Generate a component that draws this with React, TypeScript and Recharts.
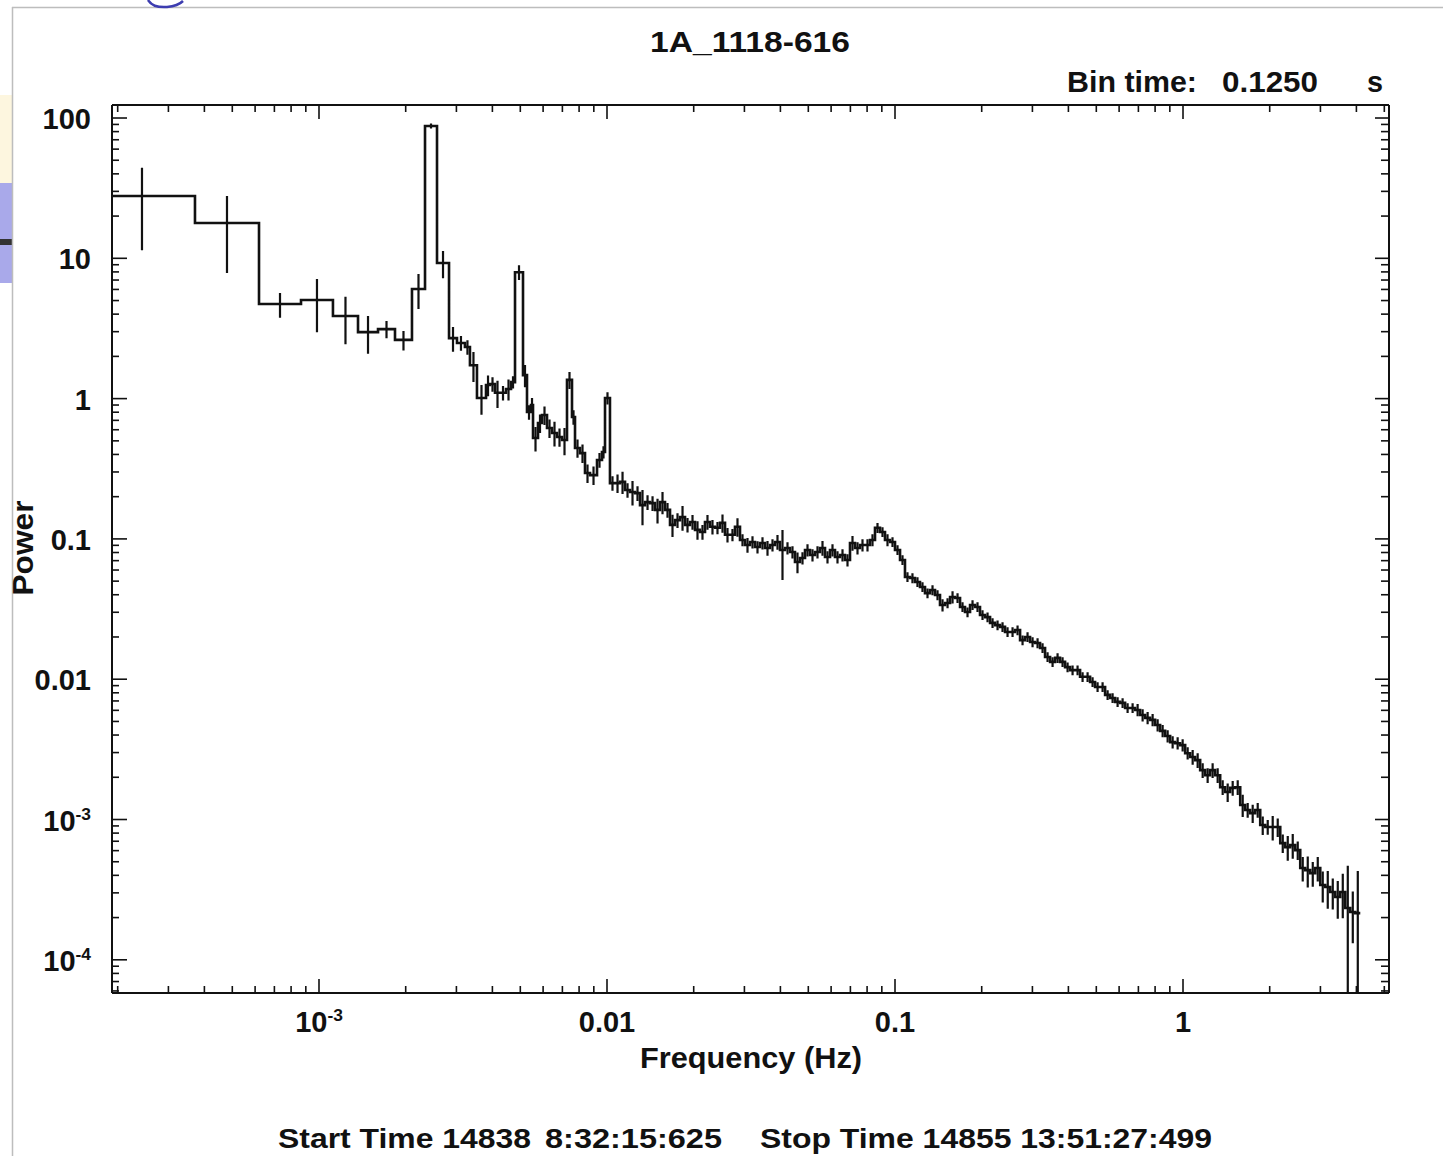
import React from 'react';
import { LineChart, Line, XAxis, YAxis } from 'recharts';

// ---- data ----
// bin edges (Hz), n+1 values
const binEdges = [
  1.59e-4, 3.71e-4, 6.19e-4, 8.66e-4, 1.118e-3, 1.366e-3, 1.603e-3, 1.836e-3, 2.103e-3, 2.334e-3,
  2.569e-3, 2.828e-3, 3.014e-3, 3.212e-3, 3.343e-3, 3.536e-3, 3.801e-3, 3.925e-3, 4.084e-3, 4.251e-3,
  4.46e-3, 4.642e-3, 4.793e-3, 5.109e-3, 5.275e-3, 5.447e-3, 5.535e-3, 5.76e-3, 5.947e-3, 6.19e-3,
  6.442e-3, 6.705e-3, 6.979e-3, 7.263e-3, 7.559e-3, 7.743e-3, 8.059e-3, 8.387e-3, 8.73e-3, 9.233e-3,
  9.607e-3, 9.842e-3,
  0.01024, 0.01066, 0.0111, 0.01155, 0.01202, 0.01251, 0.01302, 0.01355, 0.01411, 0.01468,
  0.01528, 0.0159, 0.01655, 0.01722, 0.01793, 0.01866, 0.01942, 0.02021, 0.02103, 0.02189,
  0.02278, 0.02371, 0.02468, 0.02569, 0.02673, 0.02782, 0.02896, 0.03014, 0.03137, 0.03265,
  0.03398, 0.03537, 0.03681, 0.03831, 0.03987, 0.0415, 0.04319, 0.04495, 0.04678, 0.0487,
  0.05068, 0.05275, 0.0549, 0.05714, 0.05947, 0.06189, 0.06442, 0.06705, 0.06978, 0.07263,
  0.07559, 0.07867, 0.08188, 0.08522, 0.0887, 0.09231, 0.09608, 0.1, 0.1041, 0.1083,
  0.1127, 0.1173, 0.1221, 0.1271, 0.1323, 0.1377, 0.1433, 0.1492, 0.1553, 0.1616,
  0.1682, 0.175, 0.1822, 0.1896, 0.1973, 0.2054, 0.2138, 0.2225, 0.2316, 0.241,
  0.2509, 0.2611, 0.2718, 0.2828, 0.2944, 0.3064, 0.3189, 0.3319, 0.3455, 0.3596,
  0.3742, 0.3895, 0.4054, 0.4219, 0.4391, 0.4571, 0.4757, 0.4951, 0.5153, 0.5364,
  0.5583, 0.581, 0.6048, 0.6294, 0.6551, 0.6819, 0.7097, 0.7387, 0.7688, 0.8002,
  0.8329, 0.8669, 0.9022, 0.9391, 0.9774, 1.0173, 1.059, 1.102, 1.147, 1.194,
  1.242, 1.293, 1.346, 1.401, 1.458, 1.518, 1.58, 1.644, 1.711, 1.781,
  1.854, 1.93, 2.008, 2.09, 2.176, 2.265, 2.357, 2.453, 2.553, 2.657,
  2.766, 2.879, 2.996, 3.118, 3.246, 3.378, 3.516, 3.66, 3.809, 3.965,
  4.126,
];

// power per bin
const power = [
  27.8, 17.85, 4.72, 5.04, 3.88, 2.98, 3.13, 2.62, 6.04, 87.7,
  9.26, 2.7, 2.49, 2.33, 1.73, 1.01, 1.25, 1.27, 1.1, 1.1,
  1.17, 1.31, 7.96, 1.47, 0.802, 0.9, 0.524, 0.67, 0.764, 0.617,
  0.569, 0.533, 0.507, 1.36, 0.739, 0.445, 0.409, 0.295, 0.285, 0.365,
  0.416, 1.01,
  0.25, 0.25, 0.255, 0.223, 0.216, 0.212, 0.174, 0.183, 0.18, 0.161,
  0.183, 0.161, 0.126, 0.136, 0.143, 0.126, 0.132, 0.116, 0.112, 0.132,
  0.122, 0.12, 0.13, 0.107, 0.107, 0.122, 0.0983, 0.0905, 0.0951, 0.0876,
  0.0935, 0.0862, 0.0905, 0.0951, 0.0834, 0.0862, 0.0807, 0.0685, 0.0731, 0.0834,
  0.0768, 0.0807, 0.0862, 0.0743, 0.0834, 0.0743, 0.0768, 0.0707, 0.0935, 0.0862,
  0.0905, 0.0905, 0.0983, 0.12, 0.112, 0.0983, 0.0951, 0.0834, 0.0707, 0.0535,
  0.0526, 0.0493, 0.0454, 0.0411, 0.0432, 0.0398, 0.0338, 0.0349, 0.0385, 0.0379,
  0.0327, 0.0301, 0.0338, 0.0327, 0.0287, 0.0277, 0.0252, 0.0243, 0.0236, 0.0217,
  0.0217, 0.0224, 0.019, 0.02, 0.0184, 0.0181, 0.0167, 0.0144, 0.0133, 0.0142,
  0.0133, 0.0122, 0.0116, 0.0116, 0.0104, 0.0104, 0.00955, 0.00881, 0.00881, 0.00773,
  0.00735, 0.00689, 0.00678, 0.00624, 0.00624, 0.00604, 0.00556, 0.0053, 0.00513, 0.00472,
  0.00428, 0.00394, 0.00356, 0.0035, 0.00339, 0.00297, 0.00279, 0.00265, 0.00225, 0.00207,
  0.00225, 0.00207, 0.0017, 0.00157, 0.00168, 0.0017, 0.00127, 0.00117, 0.00111, 0.00117,
  0.000914, 0.000884, 0.000884, 0.000884, 0.000679, 0.000636, 0.000657, 0.000605, 0.000451, 0.000436,
  0.000415, 0.000451, 0.000341, 0.00033, 0.000304, 0.00028, 0.000304, 0.000234, 0.000219, 0.000215,
];

// relative 1-sigma error per bin
const relErr = [
  0.59, 0.56, 0.2, 0.41, 0.37, 0.3, 0.14, 0.16, 0.28, 0.04,
  0.22, 0.2, 0.12, 0.12, 0.24, 0.24, 0.17, 0.12, 0.22, 0.12,
  0.17, 0.1, 0.12, 0.18, 0.12, 0.12, 0.2, 0.15, 0.15, 0.15,
  0.2, 0.15, 0.22, 0.14, 0.12, 0.15, 0.15, 0.15, 0.15, 0.12,
  0.1, 0.1,
  0.12, 0.15, 0.18, 0.12, 0.2, 0.12, 0.28, 0.12, 0.12, 0.2,
  0.18, 0.12, 0.18, 0.12, 0.2, 0.12, 0.12, 0.15, 0.12, 0.12,
  0.12, 0.1, 0.15, 0.12, 0.1, 0.15, 0.1, 0.12, 0.1, 0.1,
  0.1, 0.12, 0.1, 0.12, 0.39, 0.1, 0.1, 0.17, 0.1, 0.1,
  0.1, 0.1, 0.12, 0.1, 0.1, 0.1, 0.1, 0.1, 0.12, 0.1,
  0.1, 0.1, 0.1, 0.08, 0.08, 0.1, 0.08, 0.08, 0.08, 0.08,
  0.08, 0.08, 0.08, 0.08, 0.08, 0.08, 0.1, 0.08, 0.1, 0.08,
  0.08, 0.08, 0.08, 0.08, 0.08, 0.08, 0.08, 0.08, 0.08, 0.08,
  0.08, 0.08, 0.08, 0.08, 0.08, 0.08, 0.08, 0.08, 0.08, 0.08,
  0.08, 0.08, 0.08, 0.08, 0.08, 0.08, 0.08, 0.08, 0.08, 0.08,
  0.08, 0.08, 0.08, 0.08, 0.08, 0.1, 0.1, 0.1, 0.1, 0.1,
  0.1, 0.1, 0.1, 0.1, 0.1, 0.1, 0.12, 0.12, 0.12, 0.12,
  0.12, 0.12, 0.12, 0.15, 0.12, 0.12, 0.18, 0.12, 0.15, 0.12,
  0.15, 0.12, 0.2, 0.15, 0.15, 0.2, 0.2, 0.15, 0.2, 0.25,
  0.2, 0.2, 0.25, 0.3, 0.25, 0.3, 0.35, 1.0, 0.4, 1.0,
];

const xMajorTicks = [0.001, 0.01, 0.1, 1];
const xTickLabels = ['10^-3', '0.01', '0.1', '1'];
const yMajorTicks = [1e-4, 1e-3, 0.01, 0.1, 1, 10, 100];
const yTickLabels = ['10^-4', '10^-3', '0.01', '0.1', '1', '10', '100'];

const title = '1A_1118-616';
const binTimeLabel = 'Bin time:';
const binTimeValue = '0.1250';
const binTimeUnit = 's';
const xTitle = 'Frequency (Hz)';
const yTitle = 'Power';
const startText = 'Start Time 14838';
const startClock = '8:32:15:625';
const stopText = 'Stop Time 14855 13:51:27:499';

// ---- derived ----
const X_DOMAIN: [number, number] = [1.911e-4, 5.191];
const Y_DOMAIN: [number, number] = [5.8e-5, 123.8];

const withMinors = (majors: number[], dom: [number, number]) => {
  const out: number[] = [];
  const lo = Math.floor(Math.log10(dom[0]));
  const hi = Math.ceil(Math.log10(dom[1]));
  for (let d = lo; d <= hi; d++) {
    for (let m = 1; m <= 9; m++) {
      const v = m * Math.pow(10, d);
      if (v >= dom[0] && v <= dom[1]) out.push(v);
    }
  }
  majors.forEach((v) => { if (!out.some((o) => Math.abs(o / v - 1) < 1e-9)) out.push(v); });
  return out.sort((a, b) => a - b);
};
const xTicks = withMinors(xMajorTicks, X_DOMAIN);
const yTicks = withMinors(yMajorTicks, Y_DOMAIN);

const majorIndex = (v: number, majors: number[]) => majors.findIndex((m) => Math.abs(v / m - 1) < 1e-6);

const stepData = power.flatMap((p, i) => [
  { f: binEdges[i], p },
  { f: binEdges[i + 1], p },
]);
const errData = power.flatMap((p, i) => {
  const c = Math.sqrt(binEdges[i] * binEdges[i + 1]);
  const s = p * relErr[i];
  return [
    { f: c, p: Math.max(p - s, 1e-7) },
    { f: c, p: p + s },
    { f: c, p: null as number | null },
  ];
});

const FONT = '"Liberation Sans", Arial, Helvetica, sans-serif';
const INK = '#111';
const MAJ = 14;
const MIN = 7;

const Label = ({ x, y, text, anchor, size }: { x: number; y: number; text: string; anchor: string; size: number }) => {
  const parts = text.split('^');
  return (
    <text x={x} y={y} textAnchor={anchor} fontFamily={FONT} fontWeight="bold" fontSize={size} fill={INK}>
      <tspan>{parts[0]}</tspan>
      {parts[1] ? (
        <tspan dy={-11} fontSize={size * 0.6}>{parts[1]}</tspan>
      ) : null}
    </text>
  );
};

const XTickBottom = (props: any) => {
  const { x, y, payload } = props;
  const k = majorIndex(payload.value, xMajorTicks);
  const len = k >= 0 ? MAJ : MIN;
  return (
    <g>
      <line x1={x} x2={x} y1={y} y2={y - len} stroke={INK} strokeWidth={1.6} />
      {k >= 0 ? <Label x={x} y={y + 39} text={xTickLabels[k]} anchor="middle" size={29} /> : null}
    </g>
  );
};
const XTickTop = (props: any) => {
  const { x, y, payload } = props;
  const k = majorIndex(payload.value, xMajorTicks);
  const len = k >= 0 ? MAJ : MIN;
  return <line x1={x} x2={x} y1={y} y2={y + len} stroke={INK} strokeWidth={1.6} />;
};
const YTickLeft = (props: any) => {
  const { x, y, payload } = props;
  const k = majorIndex(payload.value, yMajorTicks);
  const len = k >= 0 ? MAJ + 1 : MIN;
  return (
    <g>
      <line x1={x} x2={x + len} y1={y} y2={y} stroke={INK} strokeWidth={1.6} />
      {k >= 0 ? <Label x={x - 21} y={y + 11} text={yTickLabels[k]} anchor="end" size={29} /> : null}
    </g>
  );
};
const YTickRight = (props: any) => {
  const { x, y, payload } = props;
  const k = majorIndex(payload.value, yMajorTicks);
  const len = k >= 0 ? MAJ : MIN + 1;
  return <line x1={x} x2={x - len} y1={y} y2={y} stroke={INK} strokeWidth={1.6} />;
};

const txt = (x: number, y: number, s: string, len: number, anchor = 'start', extra: any = {}, size = 30) => (
  <text x={x} y={y} textAnchor={anchor} fontFamily={FONT} fontWeight="bold" fontSize={size} fill={INK}
    textLength={len} lengthAdjust="spacingAndGlyphs" {...extra}>{s}</text>
);

export default function App() {
  return (
    <div style={{ position: 'absolute', left: 0, top: 0, width: 1443, height: 1156, background: '#fff', overflow: 'hidden' }}>
      <LineChart width={1443} height={1156} margin={{ top: 95, right: 44, bottom: 123, left: 52 }}>
        <XAxis xAxisId="b" dataKey="f" type="number" scale="log" domain={X_DOMAIN} allowDataOverflow
          ticks={xTicks} interval={0} tickSize={0} tickMargin={0} height={40} tickLine={false}
          axisLine={{ stroke: INK, strokeWidth: 2 }} tick={(p: any) => <XTickBottom {...p} />} />
        <XAxis xAxisId="t" orientation="top" dataKey="f" type="number" scale="log" domain={X_DOMAIN} allowDataOverflow
          ticks={xTicks} interval={0} tickSize={0} tickMargin={0} height={10} tickLine={false}
          axisLine={{ stroke: INK, strokeWidth: 2 }} tick={(p: any) => <XTickTop {...p} />} />
        <YAxis yAxisId="l" type="number" scale="log" domain={Y_DOMAIN} allowDataOverflow
          ticks={yTicks} interval={0} tickSize={0} tickMargin={0} width={60} tickLine={false}
          axisLine={{ stroke: INK, strokeWidth: 2 }} tick={(p: any) => <YTickLeft {...p} />} />
        <YAxis yAxisId="r" orientation="right" type="number" scale="log" domain={Y_DOMAIN} allowDataOverflow
          ticks={yTicks} interval={0} tickSize={0} tickMargin={0} width={10} tickLine={false}
          axisLine={{ stroke: INK, strokeWidth: 2 }} tick={(p: any) => <YTickRight {...p} />} />
        <Line xAxisId="b" yAxisId="l" data={errData} dataKey="p" type="linear" stroke={INK}
          strokeWidth={2.2} dot={false} activeDot={false} connectNulls={false} isAnimationActive={false} />
        <Line xAxisId="b" yAxisId="l" data={stepData} dataKey="p" type="linear" stroke={INK}
          strokeWidth={2.6} dot={false} activeDot={false} isAnimationActive={false} />
      </LineChart>
      <svg width={1443} height={1156} style={{ position: 'absolute', left: 0, top: 0, pointerEvents: 'none' }}>
        <rect x={0} y={95} width={12} height={88} fill="#fdf6df" />
        <rect x={0} y={183} width={12} height={100} fill="#a9a9ea" />
        <rect x={0} y={239} width={12} height={6} fill="#333" />
        <line x1={12.5} x2={12.5} y1={7} y2={1156} stroke="#bdbdbd" strokeWidth={1.5} />
        <line x1={12} x2={1443} y1={7.5} y2={7.5} stroke="#bdbdbd" strokeWidth={1.5} />
        <path d="M148,0 Q153,8 167,7 Q178,6 183,1" fill="none" stroke="#3d3db0" strokeWidth={2.5} />
        {txt(750, 52, title, 200, 'middle')}
        {txt(1067, 92, binTimeLabel, 130)}
        {txt(1222, 92, binTimeValue, 96)}
        {txt(1367, 92, binTimeUnit, 16)}
        {txt(640, 1068, xTitle, 222)}
        {txt(33, 548, yTitle, 95, 'middle', { transform: 'rotate(-90, 33, 548)' })}
        {txt(278, 1148, startText, 253, 'start', {}, 28)}
        {txt(545, 1148, startClock, 177, 'start', {}, 28)}
        {txt(760, 1148, stopText, 452, 'start', {}, 28)}
      </svg>
    </div>
  );
}
